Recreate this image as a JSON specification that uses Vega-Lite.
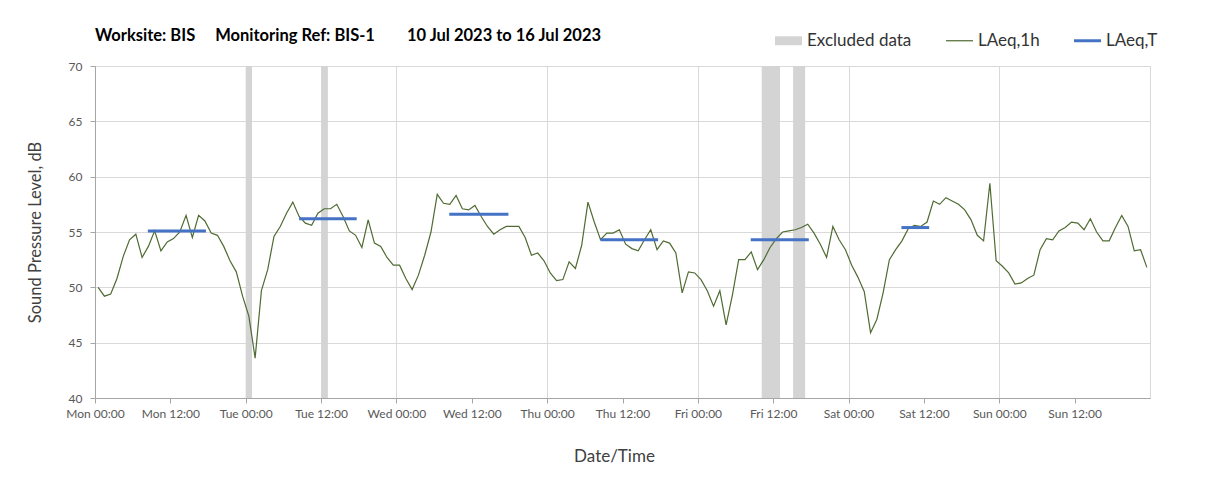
{
"$schema": "https://vega.github.io/schema/vega-lite/v6.json",
"width": 1055, "height": 332,
"autosize": {"type": "none"},
"padding": {"left": 95, "top": 66, "right": 58, "bottom": 94},
"background": "white",
"title": {"text": "Worksite: BIS\u00a0\u00a0\u00a0\u00a0\u00a0Monitoring Ref: BIS-1\u00a0\u00a0\u00a0\u00a0\u00a0\u00a0\u00a0\u00a010 Jul 2023 to 16 Jul 2023", "anchor": "start", "frame": "group", "offset": -17, "fontSize": 16.5, "fontWeight": "bold", "font": "Lato", "color": "#000000"},
"config": {"font": "Lato", "view": {"stroke": "#d9d9d9"}},
"datasets": {
"hourly": [
{"t":"2023-07-10T00:30","v":50.0},{"t":"2023-07-10T01:30","v":49.2},{"t":"2023-07-10T02:30","v":49.4},{"t":"2023-07-10T03:30","v":50.8},{"t":"2023-07-10T04:30","v":52.8},{"t":"2023-07-10T05:30","v":54.3},{"t":"2023-07-10T06:30","v":54.8},{"t":"2023-07-10T07:30","v":52.7},{"t":"2023-07-10T08:30","v":53.7},{"t":"2023-07-10T09:30","v":55.1},{"t":"2023-07-10T10:30","v":53.3},{"t":"2023-07-10T11:30","v":54.1},{"t":"2023-07-10T12:30","v":54.4},{"t":"2023-07-10T13:30","v":55.0},{"t":"2023-07-10T14:30","v":56.5},{"t":"2023-07-10T15:30","v":54.5},{"t":"2023-07-10T16:30","v":56.5},{"t":"2023-07-10T17:30","v":56.0},{"t":"2023-07-10T18:30","v":54.9},{"t":"2023-07-10T19:30","v":54.7},{"t":"2023-07-10T20:30","v":53.7},{"t":"2023-07-10T21:30","v":52.4},{"t":"2023-07-10T22:30","v":51.4},{"t":"2023-07-10T23:30","v":49.2},
{"t":"2023-07-11T00:30","v":47.4},{"t":"2023-07-11T01:30","v":43.6},{"t":"2023-07-11T02:30","v":49.7},{"t":"2023-07-11T03:30","v":51.6},{"t":"2023-07-11T04:30","v":54.6},{"t":"2023-07-11T05:30","v":55.5},{"t":"2023-07-11T06:30","v":56.7},{"t":"2023-07-11T07:30","v":57.7},{"t":"2023-07-11T08:30","v":56.4},{"t":"2023-07-11T09:30","v":55.8},{"t":"2023-07-11T10:30","v":55.6},{"t":"2023-07-11T11:30","v":56.7},{"t":"2023-07-11T12:30","v":57.1},{"t":"2023-07-11T13:30","v":57.1},{"t":"2023-07-11T14:30","v":57.5},{"t":"2023-07-11T15:30","v":56.4},{"t":"2023-07-11T16:30","v":55.1},{"t":"2023-07-11T17:30","v":54.7},{"t":"2023-07-11T18:30","v":53.6},{"t":"2023-07-11T19:30","v":56.1},{"t":"2023-07-11T20:30","v":54.0},{"t":"2023-07-11T21:30","v":53.7},{"t":"2023-07-11T22:30","v":52.7},{"t":"2023-07-11T23:30","v":52.0},
{"t":"2023-07-12T00:30","v":52.0},{"t":"2023-07-12T01:30","v":50.8},{"t":"2023-07-12T02:30","v":49.8},{"t":"2023-07-12T03:30","v":51.1},{"t":"2023-07-12T04:30","v":52.9},{"t":"2023-07-12T05:30","v":55.0},{"t":"2023-07-12T06:30","v":58.4},{"t":"2023-07-12T07:30","v":57.6},{"t":"2023-07-12T08:30","v":57.5},{"t":"2023-07-12T09:30","v":58.3},{"t":"2023-07-12T10:30","v":57.1},{"t":"2023-07-12T11:30","v":57.0},{"t":"2023-07-12T12:30","v":57.4},{"t":"2023-07-12T13:30","v":56.4},{"t":"2023-07-12T14:30","v":55.5},{"t":"2023-07-12T15:30","v":54.8},{"t":"2023-07-12T16:30","v":55.2},{"t":"2023-07-12T17:30","v":55.5},{"t":"2023-07-12T18:30","v":55.5},{"t":"2023-07-12T19:30","v":55.5},{"t":"2023-07-12T20:30","v":54.5},{"t":"2023-07-12T21:30","v":52.9},{"t":"2023-07-12T22:30","v":53.1},{"t":"2023-07-12T23:30","v":52.4},
{"t":"2023-07-13T00:30","v":51.3},{"t":"2023-07-13T01:30","v":50.6},{"t":"2023-07-13T02:30","v":50.7},{"t":"2023-07-13T03:30","v":52.3},{"t":"2023-07-13T04:30","v":51.7},{"t":"2023-07-13T05:30","v":53.8},{"t":"2023-07-13T06:30","v":57.7},{"t":"2023-07-13T07:30","v":55.9},{"t":"2023-07-13T08:30","v":54.3},{"t":"2023-07-13T09:30","v":54.9},{"t":"2023-07-13T10:30","v":54.9},{"t":"2023-07-13T11:30","v":55.2},{"t":"2023-07-13T12:30","v":53.9},{"t":"2023-07-13T13:30","v":53.5},{"t":"2023-07-13T14:30","v":53.3},{"t":"2023-07-13T15:30","v":54.3},{"t":"2023-07-13T16:30","v":55.2},{"t":"2023-07-13T17:30","v":53.4},{"t":"2023-07-13T18:30","v":54.2},{"t":"2023-07-13T19:30","v":54.0},{"t":"2023-07-13T20:30","v":53.1},{"t":"2023-07-13T21:30","v":49.5},{"t":"2023-07-13T22:30","v":51.4},{"t":"2023-07-13T23:30","v":51.3},
{"t":"2023-07-14T00:30","v":50.7},{"t":"2023-07-14T01:30","v":49.7},{"t":"2023-07-14T02:30","v":48.3},{"t":"2023-07-14T03:30","v":49.7},{"t":"2023-07-14T04:30","v":46.6},{"t":"2023-07-14T05:30","v":49.3},{"t":"2023-07-14T06:30","v":52.5},{"t":"2023-07-14T07:30","v":52.5},{"t":"2023-07-14T08:30","v":53.2},{"t":"2023-07-14T09:30","v":51.6},{"t":"2023-07-14T10:30","v":52.5},{"t":"2023-07-14T11:30","v":53.6},{"t":"2023-07-14T12:30","v":54.4},{"t":"2023-07-14T13:30","v":55.0},{"t":"2023-07-14T14:30","v":55.1},{"t":"2023-07-14T15:30","v":55.2},{"t":"2023-07-14T16:30","v":55.4},{"t":"2023-07-14T17:30","v":55.7},{"t":"2023-07-14T18:30","v":54.9},{"t":"2023-07-14T19:30","v":53.9},{"t":"2023-07-14T20:30","v":52.7},{"t":"2023-07-14T21:30","v":55.5},{"t":"2023-07-14T22:30","v":54.3},{"t":"2023-07-14T23:30","v":53.4},
{"t":"2023-07-15T00:30","v":52.0},{"t":"2023-07-15T01:30","v":50.9},{"t":"2023-07-15T02:30","v":49.6},{"t":"2023-07-15T03:30","v":45.9},{"t":"2023-07-15T04:30","v":47.1},{"t":"2023-07-15T05:30","v":49.5},{"t":"2023-07-15T06:30","v":52.5},{"t":"2023-07-15T07:30","v":53.4},{"t":"2023-07-15T08:30","v":54.2},{"t":"2023-07-15T09:30","v":55.3},{"t":"2023-07-15T10:30","v":55.6},{"t":"2023-07-15T11:30","v":55.5},{"t":"2023-07-15T12:30","v":55.9},{"t":"2023-07-15T13:30","v":57.8},{"t":"2023-07-15T14:30","v":57.5},{"t":"2023-07-15T15:30","v":58.1},{"t":"2023-07-15T16:30","v":57.8},{"t":"2023-07-15T17:30","v":57.5},{"t":"2023-07-15T18:30","v":57.0},{"t":"2023-07-15T19:30","v":56.1},{"t":"2023-07-15T20:30","v":54.7},{"t":"2023-07-15T21:30","v":54.2},{"t":"2023-07-15T22:30","v":59.4},{"t":"2023-07-15T23:30","v":52.4},
{"t":"2023-07-16T00:30","v":51.9},{"t":"2023-07-16T01:30","v":51.3},{"t":"2023-07-16T02:30","v":50.3},{"t":"2023-07-16T03:30","v":50.4},{"t":"2023-07-16T04:30","v":50.8},{"t":"2023-07-16T05:30","v":51.1},{"t":"2023-07-16T06:30","v":53.4},{"t":"2023-07-16T07:30","v":54.4},{"t":"2023-07-16T08:30","v":54.3},{"t":"2023-07-16T09:30","v":55.1},{"t":"2023-07-16T10:30","v":55.4},{"t":"2023-07-16T11:30","v":55.9},{"t":"2023-07-16T12:30","v":55.8},{"t":"2023-07-16T13:30","v":55.2},{"t":"2023-07-16T14:30","v":56.2},{"t":"2023-07-16T15:30","v":55.0},{"t":"2023-07-16T16:30","v":54.2},{"t":"2023-07-16T17:30","v":54.2},{"t":"2023-07-16T18:30","v":55.4},{"t":"2023-07-16T19:30","v":56.5},{"t":"2023-07-16T20:30","v":55.5},{"t":"2023-07-16T21:30","v":53.3},{"t":"2023-07-16T22:30","v":53.4},{"t":"2023-07-16T23:30","v":51.8}
],
"excl": [
{"start":"2023-07-11T00:00","end":"2023-07-11T01:00"},
{"start":"2023-07-11T12:00","end":"2023-07-11T13:05"},
{"start":"2023-07-14T10:10","end":"2023-07-14T13:05"},
{"start":"2023-07-14T15:10","end":"2023-07-14T17:05"}
],
"laeqt": [
{"start":"2023-07-10T08:25","end":"2023-07-10T17:40","v":55.1},
{"start":"2023-07-11T08:30","end":"2023-07-11T17:40","v":56.2},
{"start":"2023-07-12T08:25","end":"2023-07-12T17:50","v":56.6},
{"start":"2023-07-13T08:30","end":"2023-07-13T17:40","v":54.3},
{"start":"2023-07-14T08:25","end":"2023-07-14T17:40","v":54.3},
{"start":"2023-07-15T08:25","end":"2023-07-15T12:50","v":55.4}
]
},
"layer": [
{
"data": {"name": "excl"},
"mark": {"type": "rect", "opacity": 1},
"encoding": {
"x": {"field": "start", "type": "temporal",
"scale": {"domain": [{"year": 2023, "month": 7, "date": 10, "hours": 0}, {"year": 2023, "month": 7, "date": 17, "hours": 0}]},
"axis": {
"title": "Date/Time",
"values": [
{"year":2023,"month":7,"date":10,"hours":0},{"year":2023,"month":7,"date":10,"hours":12},
{"year":2023,"month":7,"date":11,"hours":0},{"year":2023,"month":7,"date":11,"hours":12},
{"year":2023,"month":7,"date":12,"hours":0},{"year":2023,"month":7,"date":12,"hours":12},
{"year":2023,"month":7,"date":13,"hours":0},{"year":2023,"month":7,"date":13,"hours":12},
{"year":2023,"month":7,"date":14,"hours":0},{"year":2023,"month":7,"date":14,"hours":12},
{"year":2023,"month":7,"date":15,"hours":0},{"year":2023,"month":7,"date":15,"hours":12},
{"year":2023,"month":7,"date":16,"hours":0},{"year":2023,"month":7,"date":16,"hours":12}
],
"format": "%a %H:%M",
"labelFontSize": 12, "labelColor": "#595959", "labelPadding": 5, "labelOverlap": false, "labelFlush": false,
"tickColor": "#a6a6a6", "tickSize": 5, "domainColor": "#a6a6a6",
"grid": true, "gridColor": "#d9d9d9",
"gridOpacity": {"condition": {"test": "hours(datum.value) === 0", "value": 1}, "value": 0},
"titleFontSize": 17, "titleFontWeight": "normal", "titleColor": "#404040", "titlePadding": 29, "titleX": 519
}
},
"x2": {"field": "end"},
"color": {"datum": "Excluded data", "type": "nominal",
"scale": {"domain": ["Excluded data", "LAeq,1h", "LAeq,T"], "range": ["#d4d4d4", "#4f6b32", "#4472c4"]},
"legend": {
"title": null, "orient": "none", "legendX": 680, "legendY": -39, "direction": "horizontal",
"symbolType": "square", "symbolSize": 729, "labelFontSize": 17, "labelColor": "#333333", "labelBaseline": "middle",
"columnPadding": 34, "labelOffset": 5,
"encode": {"symbols": {"update": {
"shape": {"signal": "datum.value === 'Excluded data' ? 'M-1,-0.33H1V0.33H-1Z' : (datum.value === 'LAeq,T' ? 'M-1,-0.11H1V0.11H-1Z' : 'M-1,-0.045H1V0.045H-1Z')"},
"fill": {"signal": "scale('color', datum.value)"},
"stroke": {"value": "transparent"},
"strokeWidth": {"value": 0},
"opacity": {"value": 1}
}}}
}
}
}
},
{
"data": {"name": "hourly"},
"mark": {"type": "line", "strokeWidth": 1.2},
"encoding": {
"x": {"field": "t", "type": "temporal"},
"y": {"field": "v", "type": "quantitative",
"scale": {"domain": [40, 70], "nice": false, "zero": false},
"axis": {
"title": "Sound Pressure Level, dB",
"values": [40, 45, 50, 55, 60, 65, 70],
"labelFontSize": 12, "labelColor": "#595959", "labelPadding": 8,
"tickColor": "#a6a6a6", "tickSize": 5, "domainColor": "#a6a6a6",
"grid": true, "gridColor": "#d9d9d9",
"titleFontSize": 16.5, "titleFontWeight": "normal", "titleColor": "#404040", "titlePadding": 25
}
},
"color": {"datum": "LAeq,1h", "type": "nominal",
"legend": {
"title": null, "orient": "none", "legendX": 680, "legendY": -39, "direction": "horizontal",
"symbolType": "square", "symbolSize": 729, "labelFontSize": 17, "labelColor": "#333333", "labelBaseline": "middle",
"columnPadding": 34, "labelOffset": 5,
"encode": {"symbols": {"update": {
"shape": {"signal": "datum.value === 'Excluded data' ? 'M-1,-0.33H1V0.33H-1Z' : (datum.value === 'LAeq,T' ? 'M-1,-0.11H1V0.11H-1Z' : 'M-1,-0.045H1V0.045H-1Z')"},
"fill": {"signal": "scale('color', datum.value)"},
"stroke": {"value": "transparent"},
"strokeWidth": {"value": 0},
"opacity": {"value": 1}
}}}
}}
}
},
{
"data": {"name": "laeqt"},
"mark": {"type": "rule", "strokeWidth": 3},
"encoding": {
"x": {"field": "start", "type": "temporal"},
"x2": {"field": "end"},
"y": {"field": "v", "type": "quantitative"},
"color": {"datum": "LAeq,T", "type": "nominal",
"legend": {
"title": null, "orient": "none", "legendX": 680, "legendY": -39, "direction": "horizontal",
"symbolType": "square", "symbolSize": 729, "labelFontSize": 17, "labelColor": "#333333", "labelBaseline": "middle",
"columnPadding": 34, "labelOffset": 5,
"encode": {"symbols": {"update": {
"shape": {"signal": "datum.value === 'Excluded data' ? 'M-1,-0.33H1V0.33H-1Z' : (datum.value === 'LAeq,T' ? 'M-1,-0.11H1V0.11H-1Z' : 'M-1,-0.045H1V0.045H-1Z')"},
"fill": {"signal": "scale('color', datum.value)"},
"stroke": {"value": "transparent"},
"strokeWidth": {"value": 0},
"opacity": {"value": 1}
}}}
}}
}
}
]
}
